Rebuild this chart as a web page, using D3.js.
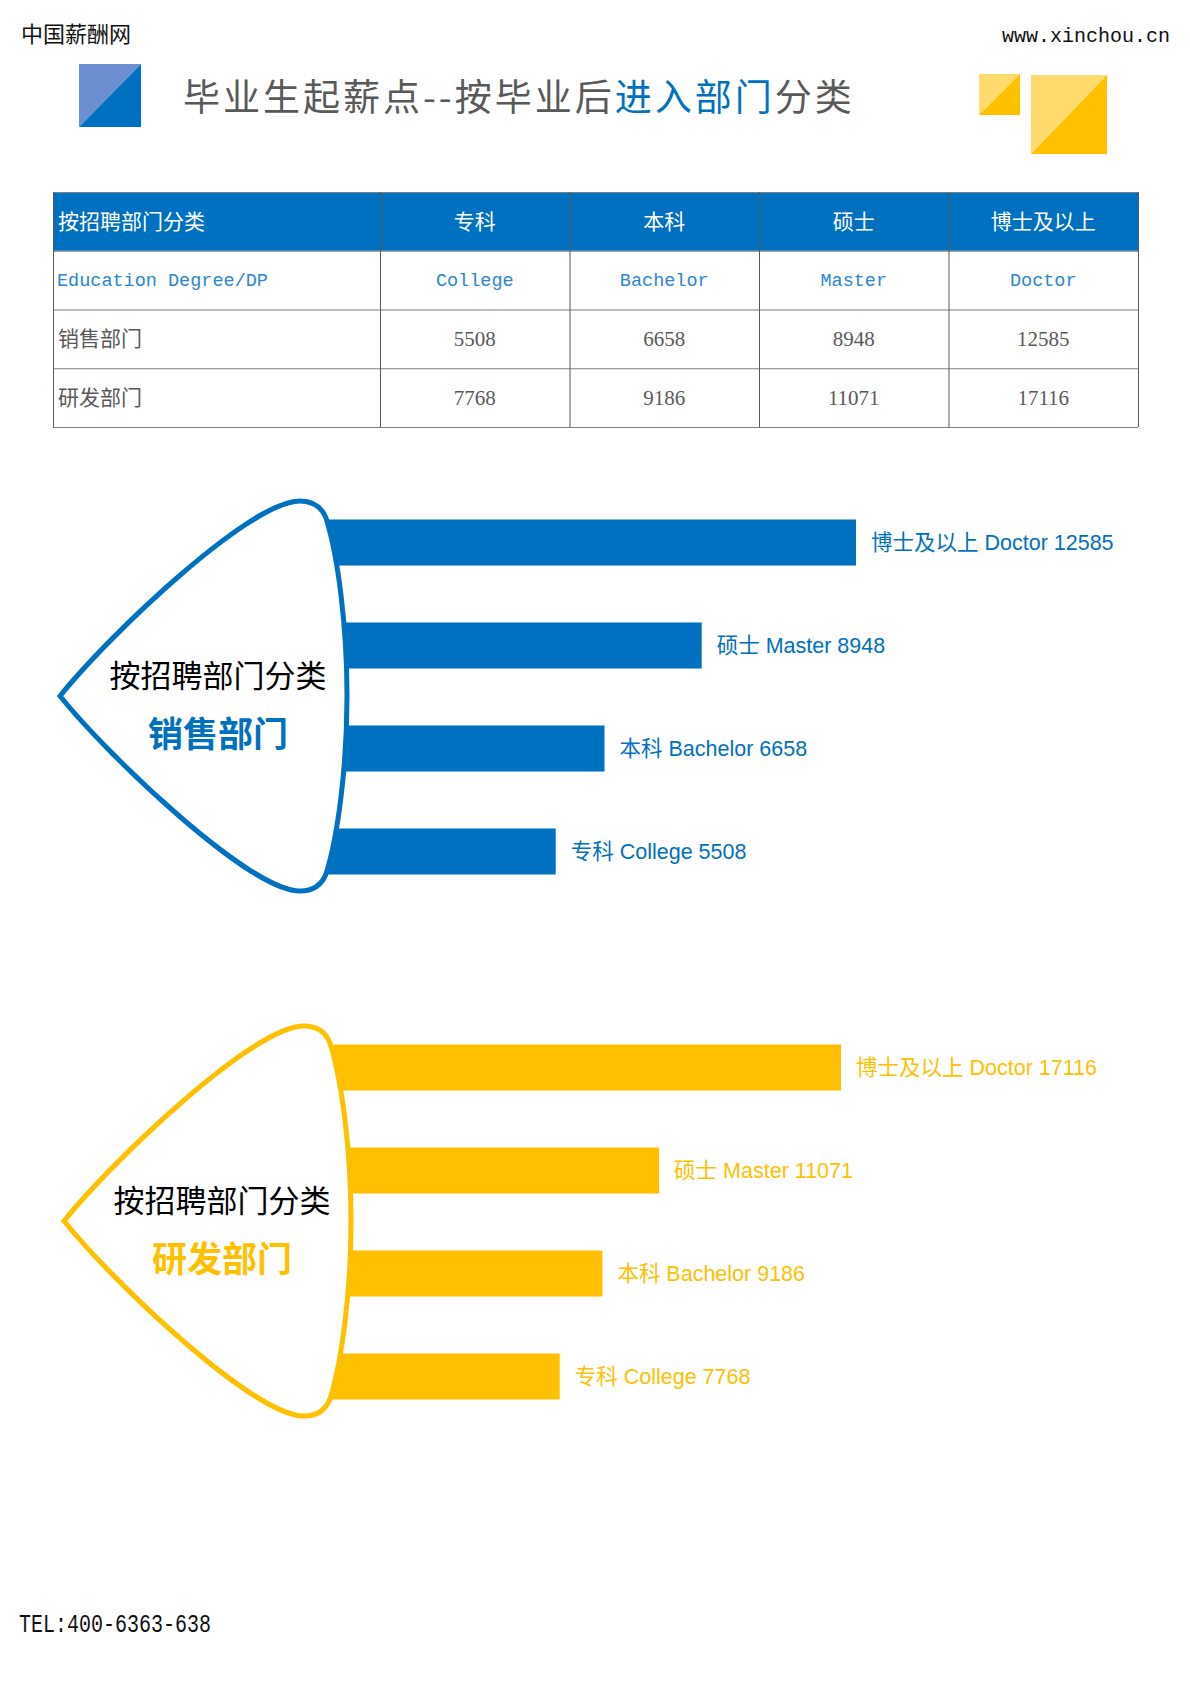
<!DOCTYPE html>
<html>
<head>
<meta charset="utf-8">
<script src="https://cdn.jsdelivr.net/npm/d3@7"></script>
<style>
    body { margin: 0; background: #fff; }
    svg { display: block; }
</style>
</head>
<body>
<div id="main"></div>
<script>
// chart values
const degrees = ['专科', '本科', '硕士', '博士及以上'];
const degreesEn = ['College', 'Bachelor', 'Master', 'Doctor'];
const departments = ['销售部门', '研发部门'];
const salesValues = [5508, 6658, 8948, 12585];
const rdValues = [7768, 9186, 11071, 17116];
const cornerLabels = ['按招聘部门分类', 'Education Degree/DP'];

const BLUE = '#0070C0', YELLOW = '#FFC000', GREY = '#595959', LINE = '#7F7F7F';
const CJK = '"Noto Sans CJK SC", "Noto Sans", sans-serif';
const LABEL = '"Liberation Sans", Arial, "Noto Sans CJK SC", sans-serif';
const MONO = '"Liberation Mono", "DejaVu Sans Mono", monospace';
const SERIF = '"Liberation Serif", "DejaVu Serif", "Noto Sans CJK SC", serif';

const W = 1190, H = 1684;
const svg = d3.select('#main').append('svg')
    .attr('width', W)
    .attr('height', H);

// page header / footer
svg.append('text')
    .attr('x', 21).attr('y', 42)
    .style('font-family', CJK).style('font-size', '22px')
    .attr('fill', '#111')
    .text('中国薪酬网');

svg.append('text')
    .attr('x', 1170).attr('y', 42)
    .attr('text-anchor', 'end')
    .style('font-family', MONO).style('font-size', '20px')
    .attr('fill', '#111')
    .text('www.xinchou.cn');

svg.append('text')
    .attr('transform', 'translate(19,1632) scale(1,1.3)')
    .style('font-family', MONO).style('font-size', '20px')
    .attr('fill', '#111')
    .text('TEL:400-6363-638');

// split squares
const drawSquare = (x, y, w, h, light, dark) => {
    svg.append('polygon')
        .attr('points', [[x, y], [x + w, y], [x, y + h]].join(' '))
        .attr('fill', light);
    svg.append('polygon')
        .attr('points', [[x + w, y], [x + w, y + h], [x, y + h]].join(' '))
        .attr('fill', dark);
};
drawSquare(79, 64, 62, 63, '#6B8FD0', BLUE);
drawSquare(979, 74, 41, 41, '#FFDB6E', YELLOW);
drawSquare(1031, 75, 76, 79, '#FFDB6E', YELLOW);

// title
const title = svg.append('text')
    .attr('x', 183).attr('y', 111)
    .style('font-family', CJK).style('font-size', '37px')
    .style('letter-spacing', '3px')
    .attr('fill', GREY);
title.append('tspan').text('毕业生起薪点--按毕业后');
title.append('tspan').attr('fill', BLUE).text('进入部门');
title.append('tspan').text('分类');

// table
const rows = ['head', 'en'].concat(departments);
const colX = d3.scaleBand().domain(degrees).range([380, 1138]);
const rowY = d3.scaleBand().domain(rows).range([192, 427]);
const tLeft = 53, tRight = 1138;

svg.append('rect')
    .attr('x', tLeft).attr('y', rowY('head'))
    .attr('width', tRight - tLeft).attr('height', rowY.bandwidth())
    .attr('fill', BLUE);

svg.append('g').selectAll('line')
    .data(rows.map(r => rowY(r)).concat([rowY.range()[1]]))
    .enter().append('line')
    .attr('x1', tLeft).attr('x2', tRight)
    .attr('y1', d => d + 0.5).attr('y2', d => d + 0.5)
    .attr('stroke', LINE).attr('stroke-width', 1);

svg.append('g').selectAll('line')
    .data([tLeft].concat(degrees.map(d => colX(d)), [tRight]))
    .enter().append('line')
    .attr('x1', d => d + 0.5).attr('x2', d => d + 0.5)
    .attr('y1', rowY.range()[0]).attr('y2', rowY.range()[1])
    .attr('stroke', GREY).attr('stroke-width', 1);

const rowMid = r => rowY(r) + rowY.bandwidth() / 2;
const colMid = c => colX(c) + colX.bandwidth() / 2;

// first column
svg.append('text').attr('x', 58).attr('y', rowMid('head')).attr('dy', '0.35em')
    .style('font-family', CJK).style('font-size', '21px').attr('fill', '#fff')
    .text(cornerLabels[0]);
svg.append('text').attr('x', 57).attr('y', rowMid('en')).attr('dy', '0.33em')
    .style('font-family', MONO).style('font-size', '18.5px').attr('fill', '#2A86D3')
    .text(cornerLabels[1]);
departments.forEach(dep => {
    svg.append('text').attr('x', 58).attr('y', rowMid(dep)).attr('dy', '0.35em')
        .style('font-family', CJK).style('font-size', '21px').attr('fill', GREY)
        .text(dep);
});

// header + english row
svg.append('g').selectAll('text')
    .data(degrees).enter().append('text')
    .attr('x', d => colMid(d)).attr('y', rowMid('head')).attr('dy', '0.35em')
    .attr('text-anchor', 'middle')
    .style('font-family', CJK).style('font-size', '21px').attr('fill', '#fff')
    .text(d => d);
svg.append('g').selectAll('text')
    .data(degrees).enter().append('text')
    .attr('x', d => colMid(d)).attr('y', rowMid('en')).attr('dy', '0.33em')
    .attr('text-anchor', 'middle')
    .style('font-family', MONO).style('font-size', '18.5px').attr('fill', '#2A86D3')
    .text((d, i) => degreesEn[i]);

[salesValues, rdValues].forEach((vals, k) => {
    svg.append('g').selectAll('text')
        .data(vals).enter().append('text')
        .attr('x', (d, i) => colMid(degrees[i])).attr('y', rowMid(departments[k])).attr('dy', '0.35em')
        .attr('text-anchor', 'middle')
        .style('font-family', SERIF).style('font-size', '21px').attr('fill', GREY)
        .text(d => d);
});

// pick-shaped bar charts
const pickPath = (tx, cy) => {
    const p = d3.path();
    const P = (dx, dy) => [tx + dx, cy + dy];
    p.moveTo(...P(0, 0));
    p.bezierCurveTo(...P(50, -62), ...P(190, -195), ...P(240, -195));
    p.bezierCurveTo(...P(254, -195), ...P(262, -188), ...P(266, -178));
    p.bezierCurveTo(...P(278, -140), ...P(287, -70), ...P(287, 0));
    p.bezierCurveTo(...P(287, 70), ...P(278, 140), ...P(266, 178));
    p.bezierCurveTo(...P(262, 188), ...P(254, 195), ...P(240, 195));
    p.bezierCurveTo(...P(190, 195), ...P(50, 62), ...P(0, 0));
    p.closePath();
    return p.toString();
};

const drawChart = (values, dept, color, cy, tipX, xRange) => {
    const g = svg.append('g');
    const order = degrees.slice().reverse();
    const y = d3.scaleBand().domain(order)
        .range([cy - 177.5, cy + 177.5])
        .paddingInner(0.553).paddingOuter(0);
    const x = d3.scaleLinear().domain([0, d3.max(values)]).range(xRange);
    const data = degrees.map((d, i) => ({ cn: d, en: degreesEn[i], v: values[i] }));

    g.selectAll('rect.bar')
        .data(data).enter().append('rect')
        .attr('class', 'bar')
        .attr('x', x(0))
        .attr('y', d => y(d.cn))
        .attr('width', d => x(d.v) - x(0))
        .attr('height', y.bandwidth())
        .attr('fill', color);

    g.selectAll('text.lbl')
        .data(data).enter().append('text')
        .attr('class', 'lbl')
        .attr('x', d => x(d.v) + 15)
        .attr('y', d => y(d.cn) + y.bandwidth() / 2)
        .attr('dy', '0.36em')
        .style('font-family', LABEL).style('font-size', '21.5px')
        .attr('fill', color)
        .text(d => d.cn + ' ' + d.en + ' ' + d.v);

    g.append('path')
        .attr('d', pickPath(tipX, cy - 1))
        .attr('fill', '#fff')
        .attr('stroke', color)
        .attr('stroke-width', 5);

    g.append('text')
        .attr('x', tipX + 158).attr('y', cy - 10)
        .attr('text-anchor', 'middle')
        .style('font-family', CJK).style('font-size', '31px')
        .attr('fill', '#000')
        .text(cornerLabels[0]);

    g.append('text')
        .attr('x', tipX + 158).attr('y', cy + 50)
        .attr('text-anchor', 'middle')
        .style('font-family', CJK).style('font-size', '35px').style('font-weight', 'bold')
        .attr('fill', color)
        .text(dept);
};

drawChart(salesValues, departments[0], BLUE, 697, 60, [322, 856]);
drawChart(rdValues, departments[1], YELLOW, 1222, 64, [326, 841]);
</script>
</body>
</html>
